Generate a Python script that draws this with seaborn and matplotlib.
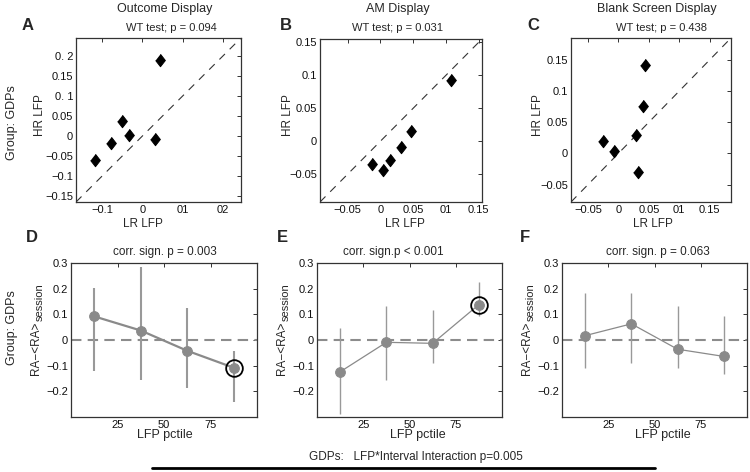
"""Recreate the LFP / reward-anticipation figure (panels A-F)."""

import matplotlib
matplotlib.use("Agg")
import matplotlib.pyplot as plt
import numpy as np
import pandas as pd
import seaborn as sns

sns.set_theme(style="white")
plt.rcParams["font.family"] = ["Liberation Sans", "DejaVu Sans"]
plt.rcParams["axes.unicode_minus"] = True

# ---- top row: LR vs HR LFP scatter -------------------------------------
display_titles = ["Outcome Display", "AM Display", "Blank Screen Display"]
wt_texts = ["WT test; p = 0.094", "WT test; p = 0.031", "WT test; p = 0.438"]

lr_outcome = [-0.117, -0.079, -0.051, -0.034, 0.031, 0.043]
hr_outcome = [-0.059, -0.017, 0.038, 0.002, -0.007, 0.190]
lr_am = [-0.013, 0.004, 0.015, 0.031, 0.047, 0.108]
hr_am = [-0.035, -0.044, -0.029, -0.008, 0.016, 0.093]
lr_blank = [-0.026, -0.007, 0.029, 0.040, 0.044, 0.032]
hr_blank = [0.020, 0.004, 0.029, 0.076, 0.141, -0.030]

top_limits = [(-0.165, 0.245), (-0.092, 0.155), (-0.078, 0.185)]
top_xticks = [[-0.1, 0, 0.1, 0.2], [-0.05, 0, 0.05, 0.1, 0.15], [-0.05, 0, 0.05, 0.1, 0.15]]
top_xticklabels = [["\u22120.1", "0", "01", "02"],
                   ["\u22120.05", "0", "0.05", "01", "0.15"],
                   ["\u22120.05", "0", "0.05", "01", "0.15"]]
top_yticks = [[-0.15, -0.1, -0.05, 0, 0.05, 0.1, 0.15, 0.2],
              [-0.05, 0, 0.05, 0.1, 0.15],
              [-0.05, 0, 0.05, 0.1, 0.15]]
top_yticklabels = [["\u22120.15", "\u22120.1", "\u22120.05", "0", "0.05", "0. 1", "0.15", "0. 2"],
                   ["\u22120.05", "0", "0.05", "0.1", "0.15"],
                   ["\u22120.05", "0", "0.05", "0.1", "0.15"]]

# ---- bottom row: RA - <RA> by LFP percentile ----------------------------
pctile = [12.5, 37.5, 62.5, 87.5]
corr_texts = ["corr. sign. p = 0.003", "corr. sign.p < 0.001", "corr. sign. p = 0.063"]

ra_outcome = [0.092, 0.037, -0.042, -0.108]
ra_outcome_lo = [-0.121, -0.154, -0.187, -0.243]
ra_outcome_hi = [0.201, 0.284, 0.126, -0.042]
ra_am = [-0.124, -0.009, -0.013, 0.138]
ra_am_lo = [-0.288, -0.154, -0.088, 0.092]
ra_am_hi = [0.047, 0.132, 0.116, 0.225]
ra_blank = [0.017, 0.063, -0.036, -0.064]
ra_blank_lo = [-0.108, -0.088, -0.108, -0.134]
ra_blank_hi = [0.182, 0.182, 0.132, 0.092]

# significant bin that gets a black ring (None = no ring)
highlight = [3, 3, None]

W, H = 750, 472
fig = plt.figure(figsize=(W / 100, H / 100), dpi=100)


def px_axes(left, right, top, bottom):
    return fig.add_axes([left / W, 1 - bottom / H, (right - left) / W, (bottom - top) / H])


def px_text(x, y, s, **kw):
    kw.setdefault("ha", "center")
    kw.setdefault("va", "center")
    fig.text(x / W, 1 - y / H, s, **kw)


def matlab_box(ax):
    for sp in ax.spines.values():
        sp.set_visible(True)
        sp.set_color("#333333")
        sp.set_linewidth(0.9)
    ax.tick_params(direction="in", length=3, width=0.7, color="#333333",
                   top=True, right=True, labelsize=8, pad=2, labelcolor="#111111")
    ax.grid(False)


diamond = [(0, 1), (0.78, 0), (0, -1), (-0.78, 0)]
top_boxes = [(76, 241, 38, 202), (320, 482, 39, 202), (571, 731, 38, 202)]
scatter_data = [(lr_outcome, hr_outcome), (lr_am, hr_am), (lr_blank, hr_blank)]

for i, box in enumerate(top_boxes):
    ax = px_axes(*box)
    lo, hi = top_limits[i]
    ax.plot([lo, hi], [lo, hi], ls=(0, (7, 6)), color="#333333", lw=0.8)
    df = pd.DataFrame({"lr": scatter_data[i][0], "hr": scatter_data[i][1]})
    sns.scatterplot(data=df, x="lr", y="hr", marker=diamond, s=80, color="black",
                    edgecolor="black", ax=ax, zorder=3)
    ax.set_xlim(lo, hi)
    ax.set_ylim(lo, hi)
    ax.set_xticks(top_xticks[i])
    ax.set_xticklabels(top_xticklabels[i])
    ax.set_yticks(top_yticks[i])
    ax.set_yticklabels(top_yticklabels[i])
    ax.set_xlabel("")
    ax.set_ylabel("")
    matlab_box(ax)

bottom_boxes = [(71, 257, 263, 417), (317, 502, 263, 417), (562, 747, 263, 417)]
ra_data = [(ra_outcome, ra_outcome_lo, ra_outcome_hi),
           (ra_am, ra_am_lo, ra_am_hi),
           (ra_blank, ra_blank_lo, ra_blank_hi)]
line_widths = [1.6, 0.9, 0.9]
bar_widths = [1.5, 1.0, 1.0]

for i, box in enumerate(bottom_boxes):
    ax = px_axes(*box)
    mean, low, high = (np.asarray(v) for v in ra_data[i])
    ax.axhline(0, color="#8c8c8c", ls=(0, (5, 3)), lw=1.5, zorder=1)
    ax.vlines(pctile, low, high, color="#999999", lw=bar_widths[i], zorder=2)
    df = pd.DataFrame({"pct": pctile, "ra": mean})
    sns.lineplot(data=df, x="pct", y="ra", color="#8a8a8a", lw=line_widths[i],
                 marker="o", markersize=7, markeredgecolor="#8a8a8a", ax=ax, zorder=3)
    if highlight[i] is not None:
        k = highlight[i]
        ax.plot(pctile[k], mean[k], marker="o", ms=12, mfc="none", mec="black",
                mew=1.3, zorder=4)
    ax.set_xlim(0, 100)
    ax.set_ylim(-0.3, 0.3)
    ax.set_xticks([25, 50, 75])
    ax.set_yticks([-0.2, -0.1, 0, 0.1, 0.2, 0.3])
    ax.set_yticklabels(["\u22120.2", "\u22120.1", "0", "0.1", "0.2", "0.3"])
    ax.set_xlabel("")
    ax.set_ylabel("")
    matlab_box(ax)

# ---- text labels --------------------------------------------------------
for x, s in zip([165, 398, 657], display_titles):
    px_text(x, 9, s, fontsize=9)
for x, s in zip([171, 397, 662], wt_texts):
    px_text(x, 28, s, fontsize=8)
for x, s in zip([165, 393, 658], corr_texts):
    px_text(x, 252, s, fontsize=8.5)

for (x, y), s in zip([(28, 25), (286, 25), (533, 25), (32, 237), (282, 237), (525, 237)],
                     "ABCDEF"):
    px_text(x, y, s, fontsize=12, fontweight="bold")

px_text(12, 123, "Group: GDPs", fontsize=9, rotation=90)
px_text(12, 328, "Group: GDPs", fontsize=9, rotation=90)

for x in [40, 288, 538]:
    px_text(x, 115, "HR LFP", fontsize=8.5, rotation=90)
for x in [143, 405, 653]:
    px_text(x, 224, "LR LFP", fontsize=8.5)
for x in [36, 282, 527]:
    px_text(x, 322, "RA\u2212<RA>", fontsize=8.5, rotation=90,
            rotation_mode="anchor", ha="right", va="center")
    px_text(x + 4, 321, "session", fontsize=8, rotation=90,
            rotation_mode="anchor", ha="left", va="center")
for x in [165, 418, 663]:
    px_text(x, 435, "LFP pctile", fontsize=9)

px_text(416, 457, "GDPs:   LFP*Interval Interaction p=0.005", fontsize=8.5)
fig.add_artist(plt.Line2D([152 / W, 655 / W], [1 - 468 / H, 1 - 468 / H],
                          color="black", lw=2))

fig.savefig("out.png", dpi=100)
